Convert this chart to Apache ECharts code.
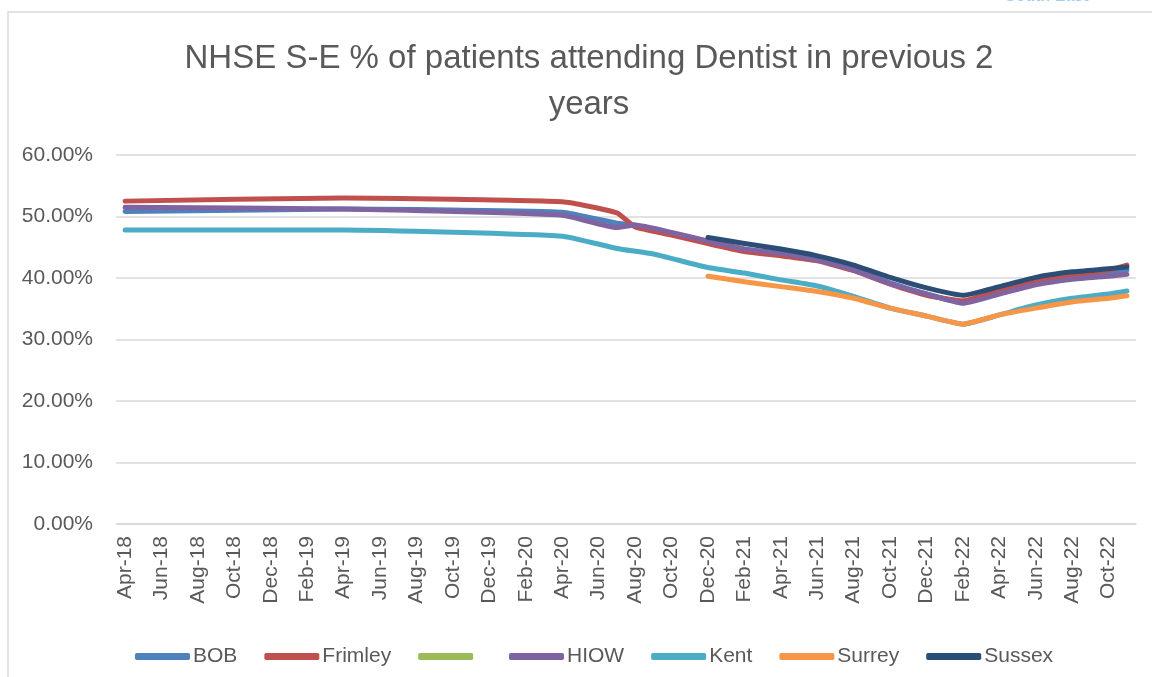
<!DOCTYPE html>
<html lang="en">
<head>
    <meta charset="UTF-8">
    <title>NHSE S-E dentist attendance</title>
    <style>
        html, body { margin: 0; padding: 0; background: #fff; }
    </style>
</head>
<body>
<div id="main" style="width: 1152px; height: 677px;"></div>
<script type="text/javascript" src="https://cdn.jsdelivr.net/npm/echarts@6/dist/echarts.min.js"></script>
<script type="text/javascript">
// months on the x axis (labels shown every 2nd one)
var months = [
    'Apr-18','May-18','Jun-18','Jul-18','Aug-18','Sep-18','Oct-18','Nov-18','Dec-18','Jan-19','Feb-19','Mar-19',
    'Apr-19','May-19','Jun-19','Jul-19','Aug-19','Sep-19','Oct-19','Nov-19','Dec-19','Jan-20','Feb-20','Mar-20',
    'Apr-20','May-20','Jun-20','Jul-20','Aug-20','Sep-20','Oct-20','Nov-20','Dec-20','Jan-21','Feb-21','Mar-21',
    'Apr-21','May-21','Jun-21','Jul-21','Aug-21','Sep-21','Oct-21','Nov-21','Dec-21','Jan-22','Feb-22','Mar-22',
    'Apr-22','May-22','Jun-22','Jul-22','Aug-22','Sep-22','Oct-22','Nov-22'
];

// % of patients, [month, value]
var bob = [
    ['Apr-18',50.8],['Apr-19',51.2],['Apr-20',50.7],['Jul-20',48.9],['Aug-20',48.6],['Oct-20',47.3],
    ['Dec-20',46.0],['Feb-21',44.7],['Apr-21',44.0],['Jun-21',43.0],['Aug-21',41.4],['Oct-21',39.2],
    ['Dec-21',37.4],['Feb-22',36.0],['Apr-22',37.6],['Jun-22',39.1],['Aug-22',40.0],['Oct-22',40.8],['Nov-22',41.3]
];
var frimley = [
    ['Apr-18',52.5],['Apr-19',53.0],['Apr-20',52.4],['Jul-20',50.6],['Aug-20',48.3],['Oct-20',47.0],
    ['Dec-20',45.6],['Feb-21',44.3],['Apr-21',43.6],['Jun-21',42.8],['Aug-21',41.2],['Oct-21',39.0],
    ['Dec-21',37.2],['Feb-22',36.3],['Apr-22',38.0],['Jun-22',39.5],['Aug-22',40.5],['Oct-22',41.3],['Nov-22',42.1]
];
var blank = [];
var hiow = [
    ['Apr-18',51.5],['Apr-19',51.2],['Apr-20',50.2],['Jul-20',48.2],['Aug-20',48.6],['Oct-20',47.4],
    ['Dec-20',46.0],['Feb-21',44.7],['Apr-21',44.0],['Jun-21',42.9],['Aug-21',41.3],['Oct-21',39.1],
    ['Dec-21',37.4],['Feb-22',35.9],['Apr-22',37.4],['Jun-22',38.9],['Aug-22',39.8],['Oct-22',40.3],['Nov-22',40.6]
];
var kent = [
    ['Apr-18',47.8],['Apr-19',47.8],['Apr-20',46.8],['Jul-20',44.8],['Sep-20',43.9],['Dec-20',41.7],
    ['Feb-21',40.8],['Apr-21',39.7],['Jun-21',38.7],['Aug-21',37.0],['Oct-21',35.1],['Dec-21',33.8],
    ['Feb-22',32.5],['Apr-22',34.0],['Jun-22',35.6],['Aug-22',36.7],['Oct-22',37.4],['Nov-22',37.9]
];
var surrey = [
    ['Dec-20',40.3],['Feb-21',39.4],['Apr-21',38.6],['Jun-21',37.8],['Aug-21',36.7],['Oct-21',35.1],
    ['Dec-21',33.8],['Feb-22',32.5],['Apr-22',34.0],['Jun-22',35.1],['Aug-22',36.1],['Oct-22',36.7],['Nov-22',37.1]
];
var sussex = [
    ['Dec-20',46.6],['Feb-21',45.6],['Apr-21',44.7],['Jun-21',43.6],['Aug-21',42.1],['Oct-21',40.1],
    ['Dec-21',38.4],['Feb-22',37.2],['Apr-22',38.6],['Jun-22',40.1],['Aug-22',41.0],['Oct-22',41.5],['Nov-22',41.8]
];

var names = ['BOB', 'Frimley', ' ', 'HIOW', 'Kent', 'Surrey', 'Sussex'];
var colors = ['#4F81BD', '#C0504D', '#9BBB59', '#8064A2', '#4BACC6', '#F79646', '#2C4D75'];
var values = [bob, frimley, blank, hiow, kent, surrey, sussex];

var myChart = echarts.init(document.getElementById('main'));

var series = [];
for (var i = 0; i < names.length; i++) {
    series.push({
        name: names[i],
        type: 'line',
        data: values[i],
        showSymbol: false,
        smooth: 0.15,
        lineStyle: { width: 5, color: colors[i], cap: 'round', join: 'round' },
        itemStyle: { color: colors[i] }
    });
}

var option = {
    backgroundColor: '#fff',
    animation: false,
    title: {
        text: 'NHSE S-E % of patients attending Dentist in previous 2\nyears',
        left: 584,
        textAlign: 'center',
        top: 31,
        textStyle: {
            fontFamily: 'Liberation Sans',
            fontSize: 33,
            fontWeight: 'normal',
            color: '#595959',
            lineHeight: 46
        }
    },
    graphic: [
        {
            type: 'rect',
            shape: { x: 8, y: 12, width: 1200, height: 700 },
            style: { fill: 'none', stroke: '#D9D9D9', lineWidth: 1.5 }
        },
        {
            type: 'text',
            left: 1005,
            top: -11,
            style: { text: 'South East', fill: '#9DD0F2', font: 'bold 16px Liberation Sans' }
        }
    ],
    legend: {
        data: names,
        left: 130,
        top: 641,
        icon: 'roundRect',
        itemWidth: 55,
        itemHeight: 7,
        itemGap: 27,
        textStyle: { fontFamily: 'Liberation Sans', fontSize: 21, color: '#595959', padding: [0, 0, 0, -2] }
    },
    grid: {
        left: 116,
        right: 16,
        top: 155,
        bottom: 153,
        containLabel: false
    },
    xAxis: {
        type: 'category',
        data: months,
        boundaryGap: true,
        axisLine: { lineStyle: { color: '#D9D9D9', width: 1.5 } },
        axisTick: { interval: 1, length: 6, lineStyle: { color: '#D9D9D9', width: 1.5 } },
        axisLabel: {
            interval: 1,
            rotate: 90,
            margin: 12,
            fontFamily: 'Liberation Sans',
            fontSize: 21,
            color: '#595959'
        }
    },
    yAxis: {
        type: 'value',
        min: 0,
        max: 60,
        interval: 10,
        axisLine: { show: false },
        axisTick: { show: false },
        splitLine: { lineStyle: { color: '#D9D9D9', width: 1.5 } },
        axisLabel: {
            margin: 23,
            fontFamily: 'Liberation Sans',
            fontSize: 21,
            color: '#595959',
            formatter: function (v) { return v.toFixed(2) + '%'; }
        }
    },
    series: series
};
myChart.setOption(option);
</script>
</body>
</html>
